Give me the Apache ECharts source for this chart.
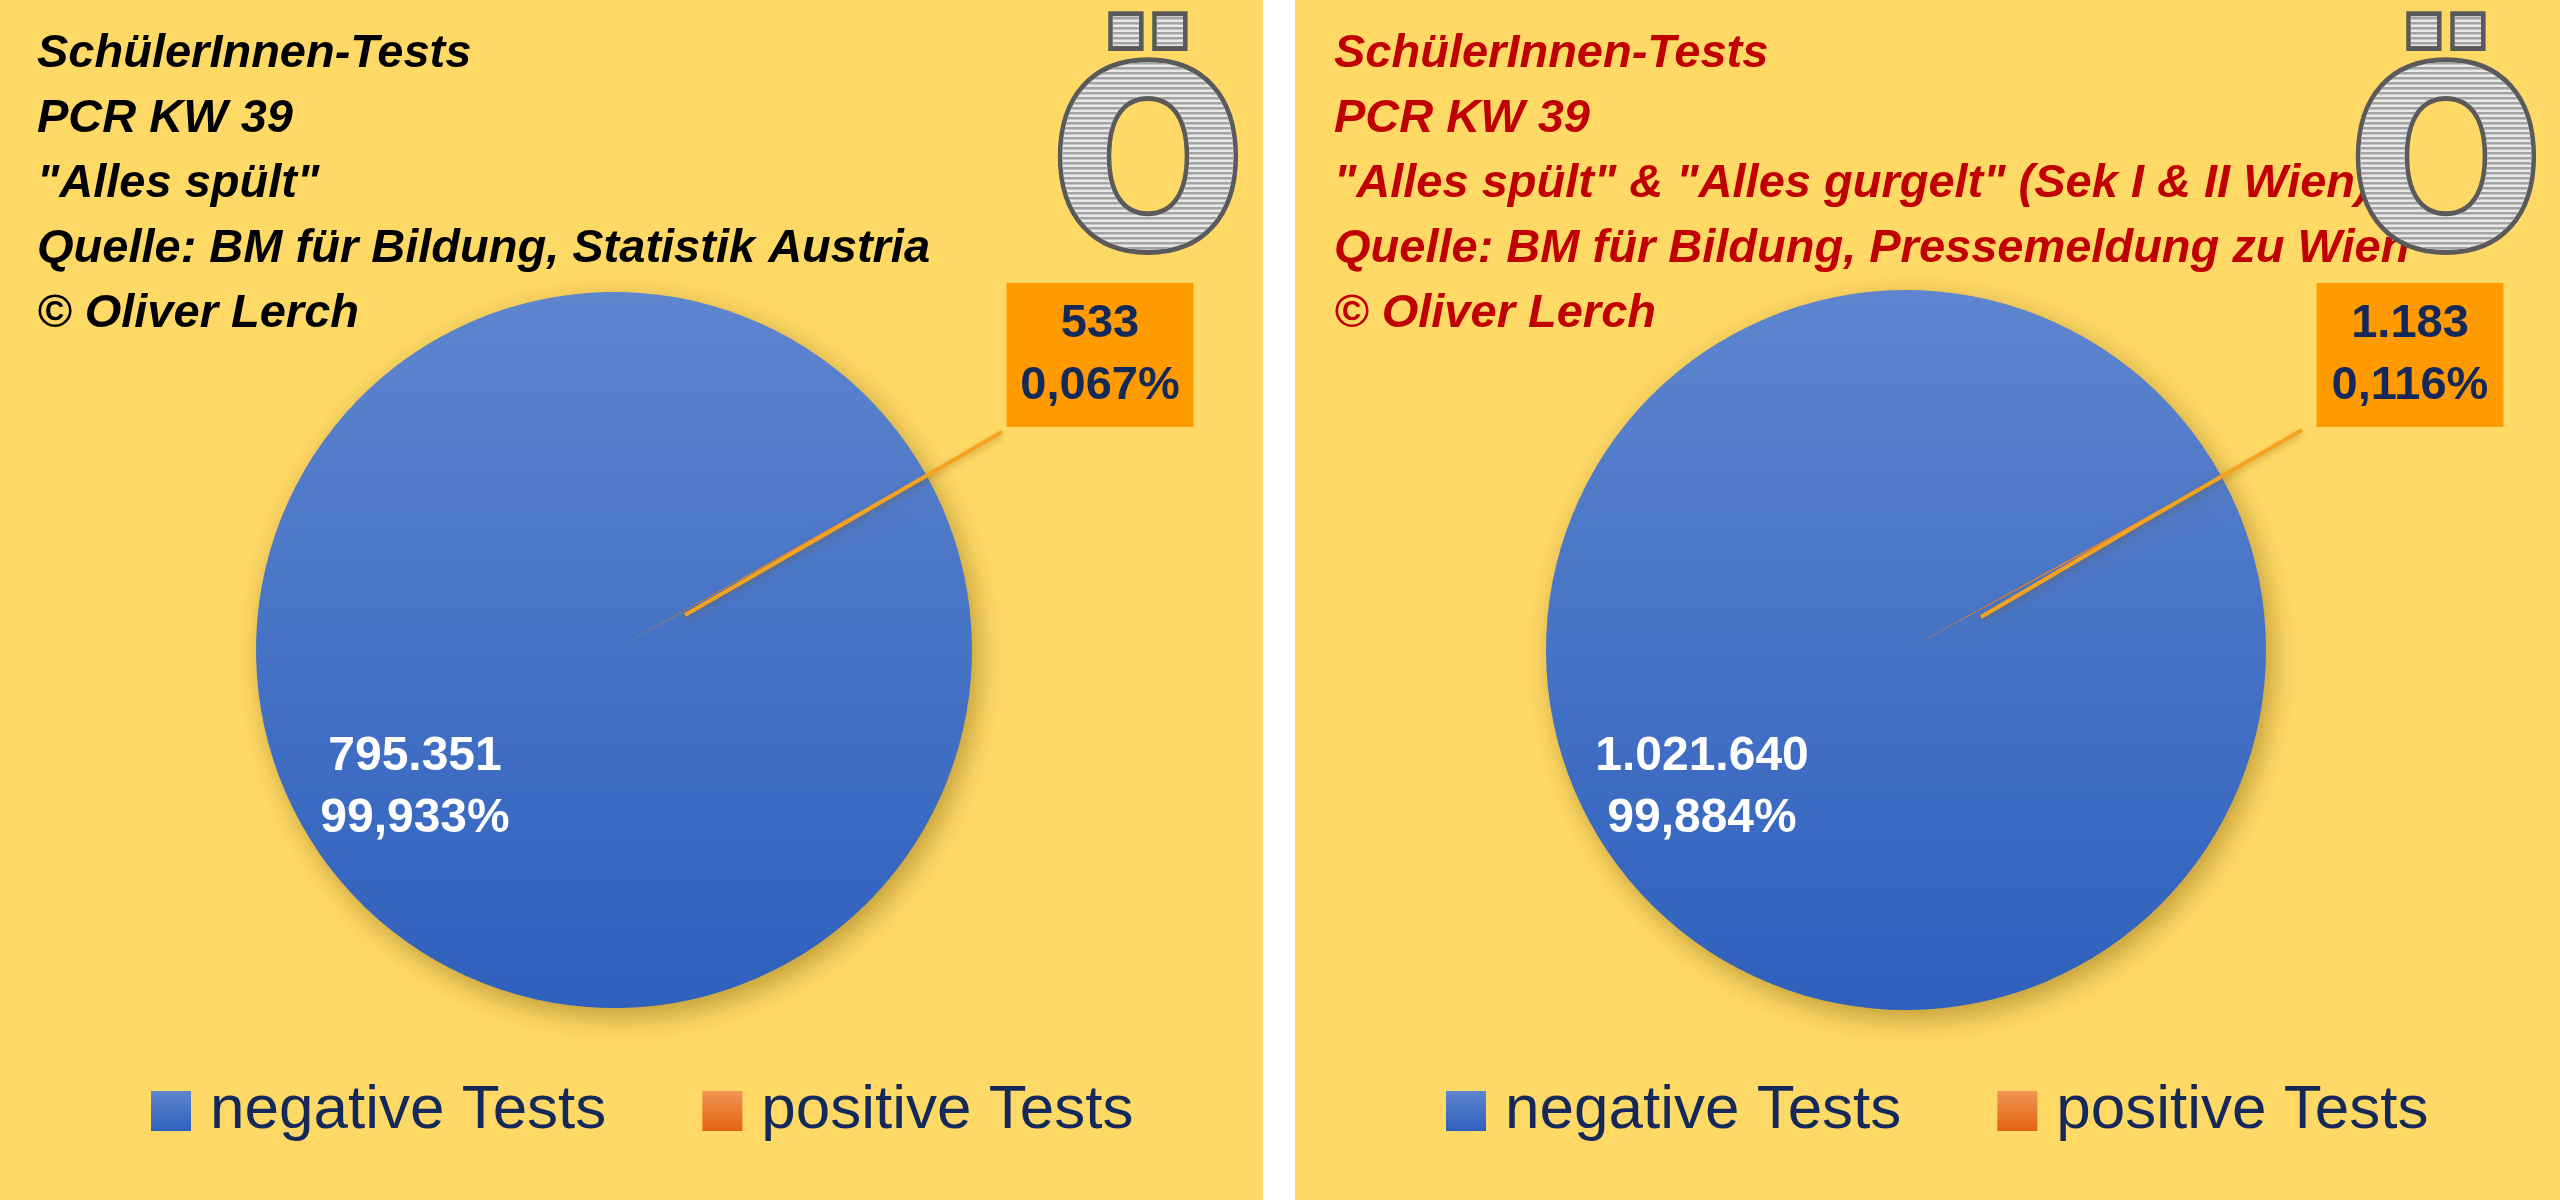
<!DOCTYPE html>
<html><head><meta charset="utf-8">
<script src="https://cdn.jsdelivr.net/npm/echarts@6/dist/echarts.min.js"></script>
<style>
html,body{margin:0;padding:0;background:#fff;width:2560px;height:1200px;overflow:hidden}
#left,#right{position:absolute;top:0;height:1200px}
#left{left:0;width:1263px}
#right{left:1295px;width:1265px}
</style></head><body>
<div id="left"></div><div id="right"></div>
<script>
// ---- data ----
const categories = ['negative Tests', 'positive Tests'];
const leftValues = [795351, 533];
const rightValues = [1021640, 1183];
const leftTitleLines = ['SchülerInnen-Tests', 'PCR KW 39', '"Alles spült"', 'Quelle: BM für Bildung, Statistik Austria', '© Oliver Lerch'];
const rightTitleLines = ['SchülerInnen-Tests', 'PCR KW 39', '"Alles spült" & "Alles gurgelt" (Sek I & II Wien)', 'Quelle: BM für Bildung, Pressemeldung zu Wien', '© Oliver Lerch'];
const logoText = 'Ö';

// ---- styling / layout ----
const FONT = '"Liberation Sans", Arial, sans-serif';
const NAVY = '#14285A';

const leftLayout = {
  center: [614, 650], radius: 358, startAngle: 29.1,
  titleLeft: 37, titleTop: 22, titleColor: '#000000',
  negLabel: [415, 788], posLabel: [1100, 355],
  linePts: [[685, 615], [843, 524], [1002, 432]],
  legendLeft: 146, logo: [1148, 182]
};
const rightLayout = {
  center: [611, 650], radius: 360, startAngle: 28.5,
  titleLeft: 39, titleTop: 22, titleColor: '#C00000',
  negLabel: [407, 788], posLabel: [1115, 355],
  linePts: [[686, 617], [846, 523], [1007, 430]],
  legendLeft: 146, logo: [1151, 182]
};

function fmtInt(v) { return String(v).replace(/\B(?=(\d{3})+(?!\d))/g, '.'); }
function fmtPct(p) { return Number(p).toFixed(3).replace('.', ','); }
const labelFmt = p => fmtInt(p.value) + '\n' + fmtPct(p.percent) + '%';

function buildOption(values, titleLines, L) {
  const blue = new echarts.graphic.LinearGradient(0, 0, 0, 1, [
    { offset: 0, color: '#5E85CE' }, { offset: 1, color: '#2E60BD' }]);
  const orange = new echarts.graphic.LinearGradient(0, 0, 0, 1, [
    { offset: 0, color: '#F29455' }, { offset: 1, color: '#E2620F' }]);

  // main pie: the slices and the inside label
  const dataMain = categories.map((name, i) => ({ name: name, value: values[i] }));
  dataMain[0].itemStyle = { color: blue };
  dataMain[0].label = { show: true, position: 'inside', color: '#FFFFFF', fontSize: 48, fontWeight: 'bold', lineHeight: 62, fontFamily: FONT };
  dataMain[0].labelLine = { show: false };
  dataMain[1].itemStyle = { color: orange };
  dataMain[1].label = { show: false };
  dataMain[1].labelLine = { show: false };

  // overlay pie (same values, invisible slices): carries the boxed label and its leader line above the pie
  const dataOver = categories.map((name, i) => ({ name: name, value: values[i] }));
  dataOver[0].label = { show: false };
  dataOver[0].labelLine = { show: false };
  dataOver[1].label = { show: true, position: 'outside', color: NAVY, fontSize: 47, fontWeight: 'bold', lineHeight: 62,
    fontFamily: FONT, backgroundColor: '#FF9A00', width: 163, padding: [10, 12], align: 'center', overflow: 'none' };
  dataOver[1].labelLine = { show: true, showAbove: true, lineStyle: { color: '#F5A21E', width: 4,
    shadowBlur: 6, shadowColor: 'rgba(120,80,0,0.35)', shadowOffsetY: 3 } };

  const common = { type: 'pie', center: L.center, radius: L.radius, startAngle: L.startAngle, clockwise: true,
    percentPrecision: 3, avoidLabelOverlap: false, emphasis: { disabled: true }, silent: true };

  return {
    animation: false,
    backgroundColor: '#FFD966',
    title: {
      text: titleLines.join('\n'), left: L.titleLeft, top: L.titleTop, padding: 0,
      textStyle: { fontFamily: FONT, fontStyle: 'italic', fontWeight: 'bold', fontSize: 47, lineHeight: 65, color: L.titleColor }
    },
    legend: {
      data: categories, left: L.legendLeft, top: 1075, orient: 'horizontal', icon: 'rect',
      itemWidth: 40, itemHeight: 40, itemGap: 96,
      itemStyle: { shadowBlur: 0, shadowOffsetX: 0, shadowOffsetY: 0, borderWidth: 0 },
      textStyle: { fontSize: 62, color: NAVY, fontFamily: FONT, padding: [0, 0, 0, 14] }
    },
    series: [
      Object.assign({}, common, {
        z: 2,
        itemStyle: { shadowBlur: 28, shadowColor: 'rgba(110,80,0,0.45)', shadowOffsetX: 6, shadowOffsetY: 9 },
        label: { formatter: labelFmt },
        labelLayout: function () {
          return { x: L.negLabel[0], y: L.negLabel[1], align: 'center', verticalAlign: 'middle' };
        },
        data: dataMain
      }),
      Object.assign({}, common, {
        z: 4,
        itemStyle: { color: 'rgba(0,0,0,0)', borderWidth: 0 },
        label: { formatter: labelFmt },
        labelLayout: function () {
          return { x: L.posLabel[0], y: L.posLabel[1], align: 'center', verticalAlign: 'middle', labelLinePoints: L.linePts };
        },
        data: dataOver
      })
    ]
  };
}

// decorative striped "Ö" logo (WordArt-like): dark outline, light body, clipped darker stripes
function addLogo(chart, L) {
  const zr = chart.getZr();
  const font = 'bold 248px "DejaVu Sans"';
  const mk = (fill, stroke, lw, z2, extra) => new echarts.graphic.Text({
    x: L.logo[0], y: L.logo[1], scaleX: 0.92, scaleY: 1, z: 100, z2: z2, silent: true,
    style: Object.assign({ text: logoText, font: font, fill: fill, stroke: stroke, lineWidth: lw,
      lineJoin: 'round', align: 'center', verticalAlign: 'middle' }, extra || {})
  });
  const outline = mk('#5A5A5A', '#5A5A5A', 10, 1,
    { shadowBlur: 8, shadowColor: 'rgba(0,0,0,0.35)', shadowOffsetX: 2, shadowOffsetY: 3 });
  const body = mk('#E9E9E9', null, 0, 2);
  const dark = mk('#A3A3A3', null, 0, 3);
  const grp = new echarts.graphic.Group();
  grp.add(dark);
  const rects = [];
  for (let k = 0; k < 64; k++) {
    rects.push(new echarts.graphic.Rect({ shape: { x: L.logo[0] - 170, y: L.logo[1] - 190 + k * 5, width: 340, height: 2.5 } }));
  }
  grp.setClipPath(new echarts.graphic.CompoundPath({ shape: { paths: rects } }));
  zr.add(outline); zr.add(body); zr.add(grp);
}

const leftChart = echarts.init(document.getElementById('left'));
leftChart.setOption(buildOption(leftValues, leftTitleLines, leftLayout));
addLogo(leftChart, leftLayout);
const rightChart = echarts.init(document.getElementById('right'));
rightChart.setOption(buildOption(rightValues, rightTitleLines, rightLayout));
addLogo(rightChart, rightLayout);
</script>
</body></html>
